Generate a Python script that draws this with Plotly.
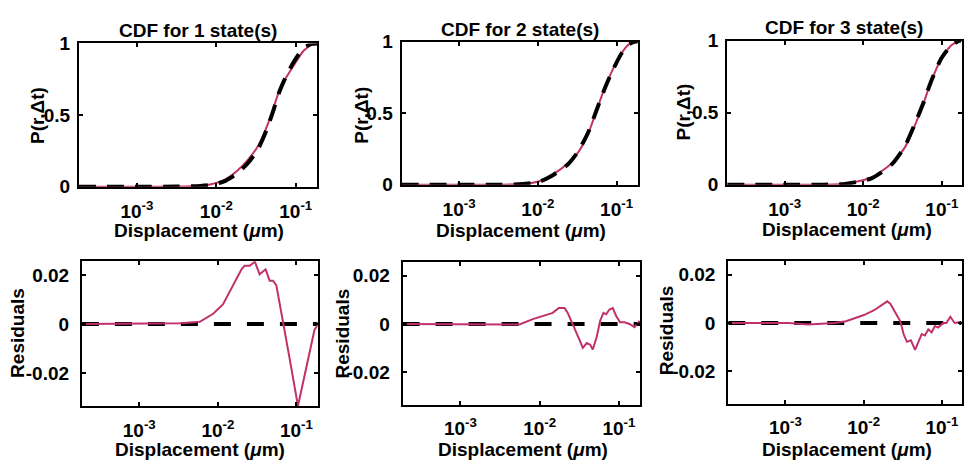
import plotly.graph_objects as go

W, H = 964, 470
FONT = "Liberation Sans, Arial, Helvetica, sans-serif"
PINK = "#c2306b"
BLACK = "#000000"

# ---- data -------------------------------------------------------------
n_states = [1, 2, 3]

# cumulative distributions: displacement (um), fitted model, measured
r_cdf_1 = [0.000186, 0.001, 0.00316, 0.0063, 0.00836, 0.0123, 0.0182, 0.0254,
           0.034, 0.0434, 0.0525, 0.0607, 0.0738, 0.0938, 0.1256, 0.16, 0.186]
cdf_fit_1 = [0.0, 0.0, 0.001, 0.006, 0.012, 0.035, 0.091, 0.169,
             0.269, 0.402, 0.535, 0.647, 0.758, 0.869, 0.969, 0.997, 1.0]
cdf_obs_1 = [0.0, 0.0, 0.001, 0.007, 0.016, 0.044, 0.110, 0.193,
             0.289, 0.421, 0.551, 0.655, 0.750, 0.844, 0.949, 0.992, 1.0]

r_cdf_2 = [0.000186, 0.001, 0.00316, 0.00638, 0.0105, 0.0155, 0.0242, 0.0325,
           0.0437, 0.0558, 0.0714, 0.0912, 0.1164, 0.1413, 0.1718, 0.186]
cdf_fit_2 = [0.0, 0.0, 0.001, 0.005, 0.022, 0.067, 0.144, 0.233,
             0.367, 0.522, 0.678, 0.810, 0.920, 0.978, 0.999, 1.0]
cdf_obs_2 = [0.0, 0.0, 0.001, 0.005, 0.025, 0.072, 0.150, 0.226,
             0.358, 0.520, 0.683, 0.814, 0.921, 0.978, 0.999, 1.0]

r_cdf_3 = [0.000186, 0.001, 0.00316, 0.00587, 0.0127, 0.0229, 0.0337, 0.0452,
           0.0575, 0.0733, 0.0982, 0.1312, 0.1675, 0.178]
cdf_fit_3 = [0.0, 0.0, 0.001, 0.006, 0.045, 0.140, 0.265, 0.420,
             0.560, 0.720, 0.875, 0.965, 1.0, 1.0]
cdf_obs_3 = [0.0, 0.0, 0.001, 0.007, 0.050, 0.148, 0.258, 0.410,
             0.555, 0.718, 0.874, 0.966, 1.0, 1.0]

# residuals (measured - model)
r_res_1 = [0.000186, 0.001, 0.0033, 0.00589, 0.00871, 0.0116, 0.0141, 0.0172,
           0.0200, 0.0219, 0.0254, 0.0275, 0.0295, 0.0340, 0.0375, 0.0405,
           0.0456, 0.0502, 0.0555, 0.0611, 0.0687, 0.0818, 0.1045, 0.1334,
           0.1698, 0.1875]
res_1 = [0.0, 0.0, 0.0003, 0.0009, 0.0042, 0.0080, 0.0132, 0.0184,
         0.0223, 0.0238, 0.0238, 0.0246, 0.0255, 0.0203, 0.0216, 0.0223,
         0.0177, 0.0177, 0.0158, 0.0080, 0.0, -0.0140, -0.0334, -0.0179,
         -0.0023, -0.0004]

r_res_2 = [0.000186, 0.001, 0.00311, 0.00556, 0.00818, 0.0110, 0.0146, 0.0174,
           0.0206, 0.0226, 0.0262, 0.0318, 0.0350, 0.0393, 0.0434, 0.0468,
           0.0525, 0.0579, 0.0638, 0.0690, 0.0759, 0.0836, 0.0923, 0.1035,
           0.1175, 0.1358, 0.1570, 0.1820]
res_2 = [0.0, 0.0, 0.0, -0.0002, 0.0020, 0.0033, 0.0046, 0.0066,
         0.0066, 0.0046, 0.0, -0.0066, -0.0099, -0.0079, -0.0086, -0.0106,
         -0.0053, 0.0013, 0.0046, 0.0040, 0.0060, 0.0066, 0.0033, 0.0007,
         0.0007, 0.0, -0.0013, 0.0013]

r_res_3 = [0.000186, 0.001, 0.0011, 0.00195, 0.00288, 0.00425, 0.00594, 0.00759,
           0.0101, 0.0136, 0.0164, 0.0200, 0.0220, 0.0254, 0.0294, 0.0324,
           0.0357, 0.0401, 0.0454, 0.0501, 0.0552, 0.0607, 0.0670, 0.0738,
           0.0813, 0.0895, 0.1035, 0.1140, 0.1279, 0.1452, 0.1679]
res_3 = [0.0, 0.0, 0.0, -0.0006, -0.0004, 0.0, 0.0007, 0.0020,
         0.0033, 0.0053, 0.0072, 0.0090, 0.0079, 0.0040, 0.0007, -0.0046,
         -0.0078, -0.0072, -0.0111, -0.0078, -0.0046, -0.0052, -0.0026, -0.0039,
         -0.0013, -0.0019, 0.0, 0.0, 0.0026, 0.0, 0.0003]

x_tick_vals = [1e-3, 1e-2, 1e-1]
x_tick_text = ["10<sup>-3</sup>", "10<sup>-2</sup>", "10<sup>-1</sup>"]
cdf_tick_vals = [0, 0.5, 1]
cdf_tick_text = ["0", "0.5", "1"]
res_tick_vals = [-0.02, 0, 0.02]
res_tick_text = ["-0.02", "0", "0.02"]

x_log_range = [[-3.73, -0.73], [-3.73, -0.73], [-3.73, -0.75]]
cdf_range = [0, 1]
res_range = [-0.0334, 0.0256]

cdf_sets = [(r_cdf_1, cdf_fit_1, cdf_obs_1),
            (r_cdf_2, cdf_fit_2, cdf_obs_2),
            (r_cdf_3, cdf_fit_3, cdf_obs_3)]
res_sets = [(r_res_1, res_1), (r_res_2, res_2), (r_res_3, res_3)]

# ---- layout boxes in pixels (x0, x1, y0, y1 from the top) -------------
top_boxes = [(79, 317.5, 35, 185), (402, 638.5, 33, 183), (728, 962.5, 32, 183)]
bot_boxes = [(82, 318, 263, 414.5), (403, 641, 264, 413), (729, 962.5, 263, 412)]


def dom_x(b):
    return [b[0] / W, b[1] / W]


def dom_y(b):
    return [1 - b[3] / H, 1 - b[2] / H]


fig = go.Figure()
layout = dict(
    width=W, height=H,
    margin=dict(l=0, r=0, t=0, b=0),
    paper_bgcolor="white", plot_bgcolor="white",
    showlegend=False,
    font=dict(family=FONT, size=19, color=BLACK),
)

common_axis = dict(
    showline=True, linecolor=BLACK, linewidth=2, mirror="ticks",
    ticks="inside", ticklen=4, tickwidth=1.5, tickcolor=BLACK,
    showgrid=False, zeroline=False,
    tickfont=dict(family=FONT, size=19, color=BLACK, weight="bold"),
)

for i in range(3):
    # top row: CDFs
    k = 2 * i + 1
    xa, ya = f"x{k}", f"y{k}"
    r, fit, obs = cdf_sets[i]
    fig.add_trace(go.Scatter(x=r, y=obs, mode="lines", xaxis=xa, yaxis=ya,
                             line=dict(color=PINK, width=2, shape="spline", smoothing=0.6)))
    fig.add_trace(go.Scatter(x=r, y=fit, mode="lines", xaxis=xa, yaxis=ya,
                             line=dict(color=BLACK, width=4, dash="17px,11px",
                                       shape="spline", smoothing=0.6)))
    layout[f"xaxis{k}"] = dict(common_axis, type="log", range=x_log_range[i],
                               domain=dom_x(top_boxes[i]), anchor=ya,
                               tickvals=x_tick_vals, ticktext=x_tick_text,
                               ticklabelstandoff=6)
    layout[f"yaxis{k}"] = dict(common_axis, range=cdf_range,
                               domain=dom_y(top_boxes[i]), anchor=xa,
                               tickvals=cdf_tick_vals, ticktext=cdf_tick_text,
                               ticklabelstandoff=3)

    # bottom row: residuals
    k = 2 * i + 2
    xa, ya = f"x{k}", f"y{k}"
    rr, res = res_sets[i]
    lo, hi = 10 ** x_log_range[i][0], 10 ** x_log_range[i][1]
    fig.add_trace(go.Scatter(x=[lo, hi], y=[0, 0], mode="lines", xaxis=xa, yaxis=ya,
                             line=dict(color=BLACK, width=4, dash="17px,16px")))
    fig.add_trace(go.Scatter(x=rr, y=res, mode="lines", xaxis=xa, yaxis=ya,
                             line=dict(color=PINK, width=2)))
    layout[f"xaxis{k}"] = dict(common_axis, type="log", range=x_log_range[i],
                               domain=dom_x(bot_boxes[i]), anchor=ya,
                               tickvals=x_tick_vals, ticktext=x_tick_text,
                               ticklabelstandoff=6)
    layout[f"yaxis{k}"] = dict(common_axis, range=res_range,
                               domain=dom_y(bot_boxes[i]), anchor=xa,
                               tickvals=res_tick_vals, ticktext=res_tick_text,
                               ticklabelstandoff=7)

fig.update_layout(**layout)


def label(text, px, py, angle=0, size=19):
    fig.add_annotation(text=text, x=px / W, y=1 - py / H, xref="paper", yref="paper",
                       xanchor="center", yanchor="middle", showarrow=False,
                       textangle=angle,
                       font=dict(family=FONT, size=size, color=BLACK, weight="bold"))


title_pos = [(198, 21), (521, 20), (845, 18)]
xtitle_top = [(199, 231), (522, 231), (848, 230)]
xtitle_bot = [(200, 460), (524, 460), (848, 460)]
ytitle_top = [(37, 110), (361, 110), (684, 107)]
ytitle_bot = [(18, 338), (343, 339), (667, 335)]

for i, n in enumerate(n_states):
    label(f"CDF for {n} state(s)", *title_pos[i])
    label("Displacement (<i>μ</i>m)", *xtitle_top[i])
    label("Displacement (<i>μ</i>m)", *xtitle_bot[i])
    label("P(r,Δt)", *ytitle_top[i], angle=-90)
    label("Residuals", *ytitle_bot[i], angle=-90)

fig.write_html("out.html")
